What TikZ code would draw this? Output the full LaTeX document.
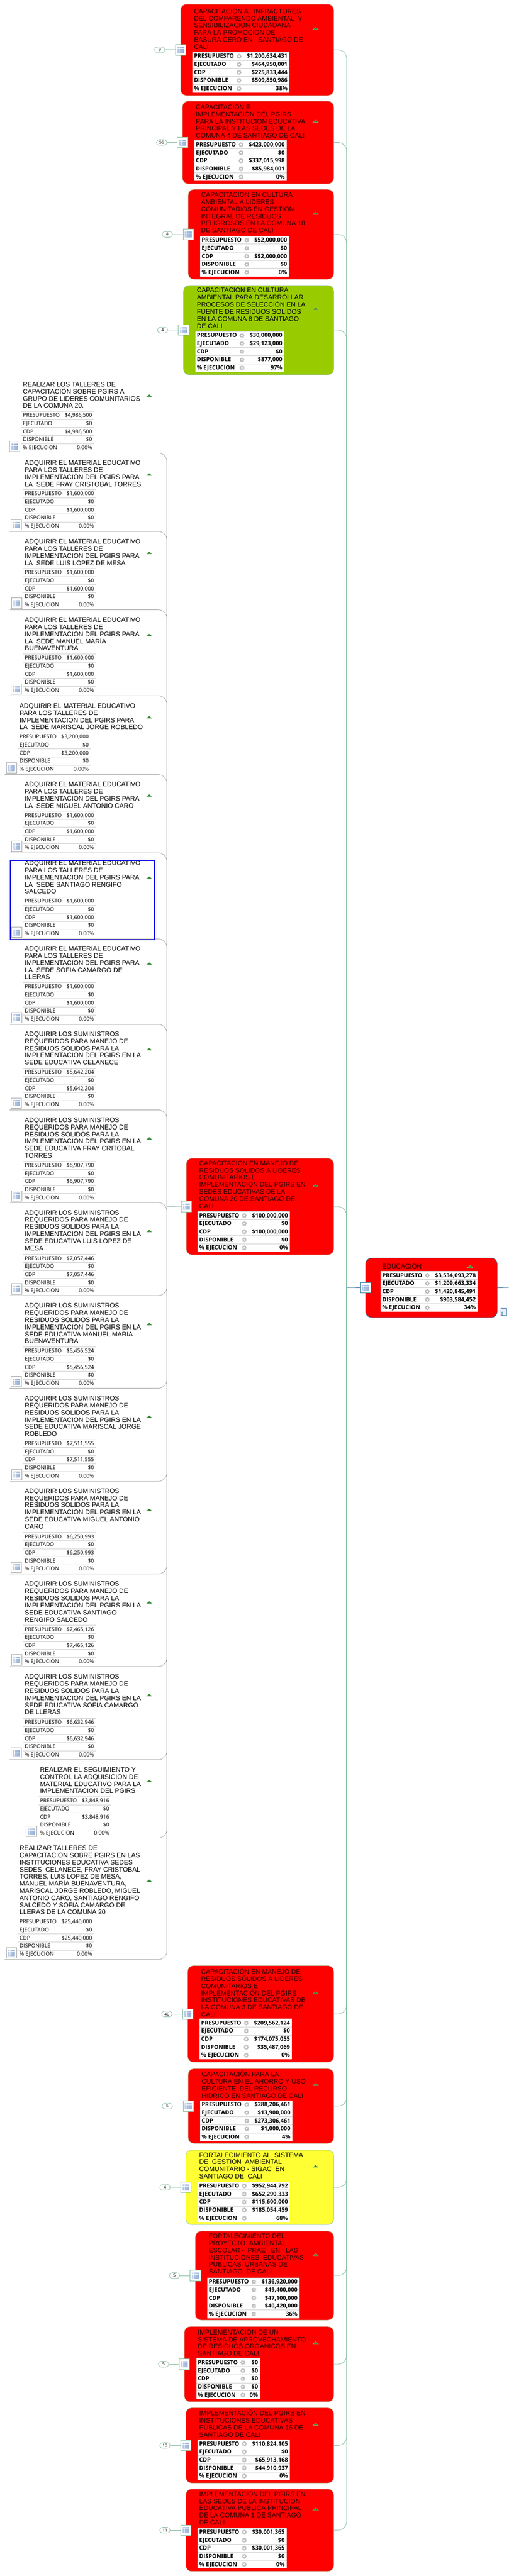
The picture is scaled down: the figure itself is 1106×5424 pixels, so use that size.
\documentclass[tikz,border=0pt]{standalone}
\usepackage{fontspec}
\setmainfont{Liberation Sans}
\newfontfamily\tablafont{Open Sans}
\usetikzlibrary{positioning,shapes.geometric}

\definecolor{verdelinea}{HTML}{86BD9F}
\definecolor{grislinea}{HTML}{A8A8A8}
\definecolor{azullinea}{HTML}{3B7A9E}
\definecolor{borderojo}{HTML}{C0A080}
\definecolor{textorojo}{HTML}{2A0000}
\definecolor{verdecaja}{HTML}{99CC00}
\definecolor{amarillocaja}{HTML}{FFFF33}
\definecolor{verdeflecha}{HTML}{2E8B2E}
\definecolor{iconoa}{HTML}{C8D8F0}
\definecolor{iconob}{HTML}{8EA8D0}

\tikzset{
    caja/.style={rounded corners=12pt,inner sep=0pt,outer sep=0pt,line width=0.8pt},
    rojo/.style={draw=borderojo,fill=red},
    verde/.style={draw=verdelinea,fill=verdecaja},
    amarillo/.style={draw=verdelinea,fill=amarillocaja},
    ramal/.style={draw=verdelinea,line width=0.9pt,rounded corners=18pt},
    gris/.style={draw=grislinea,line width=0.9pt,rounded corners=18pt},
    azul/.style={draw=azullinea,line width=0.9pt},
    icono/.style={draw=grislinea,fill=white,line width=0.8pt,minimum width=22pt,minimum height=22pt,
        inner sep=0pt,outer sep=0pt,
        path picture={\shade[left color=iconoa,right color=iconob]
            ([xshift=-7pt,yshift=-6pt]path picture bounding box.center) rectangle
            ([xshift=7pt,yshift=6pt]path picture bounding box.center);
            \draw[white,line width=0.5pt] ([xshift=-3.5pt,yshift=-6pt]path picture bounding box.center) -- ([xshift=-3.5pt,yshift=6pt]path picture bounding box.center);
            \draw[white,line width=0.5pt] ([xshift=-7pt,yshift=3pt]path picture bounding box.center) -- ([xshift=7pt,yshift=3pt]path picture bounding box.center);}},
    cuenta/.style={draw=verdelinea,fill=white,rounded corners=6pt,minimum width=22pt,minimum height=12pt,
        inner sep=0pt,outer sep=0pt,line width=0.8pt,font=\tablafont\fontsize{9}{10}\selectfont},
    titulo/.style={align=left,inner sep=0pt,font=\fontsize{13.8}{15}\selectfont},
    enrojo/.style={text=textorojo},
    tablita/.style={inner sep=0pt,outer sep=0pt,minimum height=85pt},
    tablablanca/.style={tablita,fill=white},
    fila/.style={inner sep=0pt,font=\tablafont\fontsize{11.4}{12}\selectfont},
    filab/.style={fila,font=\tablafont\bfseries\fontsize{12}{12}\selectfont},
    raya/.style={draw=black!18,line width=0.8pt},
    rueda/.style={star,star points=8,star point ratio=1.4,fill=gray!50,minimum size=11pt,inner sep=0pt},
    flechita/.style={fill=verdeflecha,draw=white!60!verdeflecha,line width=0.3pt},
    marco/.style={draw=blue!90!black,line width=2pt,inner sep=0pt,anchor=north west},
    archivo/.style={draw=azullinea,fill=blue!8,minimum width=12pt,minimum height=16pt,inner sep=0pt,
        path picture={\fill[azullinea!60] (path picture bounding box.west) rectangle (path picture bounding box.south);}}
}

% caja de color con su icono y el ramal al eje
\newcommand{\tema}[6][rojo]{
    \node[caja,#1,minimum width={#5-#3},minimum height={#6-#4},anchor=north west] (#2) at (#3,#4) {};
    \draw[ramal] (#2.east) -| (eje);
    \node[icono,draw=verdelinea] (#2i) at (#2.west) {};
}
\newcommand{\cifra}[2]{
    \node[cuenta,left=22pt of #1] (#1c) {#2};
    \draw[ramal] (#1c) -- (#1);
}
% hoja blanca: subrayado, icono y ramal gris
\newcommand{\hoja}[2]{
    \coordinate (#1) at (#2);
    \draw[gris] (#1) -| (ejeg);
    \node[icono,anchor=south west] (#1i) at ([xshift=3pt,yshift=3pt]#1) {};
}
\newcommand{\titulo}[4][]{
    \node[titulo,#1,anchor=north west] (#2) at ([yshift=5.65pt]#3) {\rule{0pt}{10.5pt}#4};
}
\newcommand{\flecha}[2]{
    \coordinate (#1) at (#2);
    \fill[flechita] (#1) ++(-6,2.5) -- ++(12,0) -- ++(-6,-5) -- cycle;
}
% tabla de cinco filas
\newcommand{\filas}[8][fila]{
    \node[tablita,#1,minimum width=#4pt,anchor=north west] (#2) at (#3) {};
    \foreach \et/\val [count=\i] in {PRESUPUESTO/{#5},EJECUTADO/{#6},CDP/{#7},DISPONIBLE/{#8},\%~EJECUCION/{\ejec}} {
        \pgfmathsetmacro\yy{12.5+17*(\i-1)}
        \pgfmathsetmacro\yr{17*(\i-1)}
        \draw[raya] ([yshift=-\yr pt]#2.north west) -- ([yshift=-\yr pt]#2.north east);
        \node[#1,anchor=base west] (#2a\i) at ([xshift=3pt,yshift=-\yy pt]#2.north west) {\et};
        \node[#1,anchor=base east] (#2b\i) at ([xshift=-4pt,yshift=-\yy pt]#2.north east) {\val};
    }
}
\newcommand{\ruedas}[1]{
    \foreach \i in {1,...,5} {
        \pgfmathsetmacro\yy{8.5+17*(\i-1)}
        \node[rueda] (#1r\i) at ([xshift=98pt,yshift=-\yy pt]#1.north west) {};
        \fill[white] (#1r\i) circle (2pt);
    }
}
% tabla de las cajas de color: fondo blanco, negrita y ruedas
\newcommand{\filasb}[7]{
    \node[tablablanca,minimum width=#3pt,anchor=north west] (#1f) at (#2) {};
    \filas[filab]{#1}{#2}{#3}{#4}{#5}{#6}{#7}
    \ruedas{#1}
}

\begin{document}
\begin{tikzpicture}[x=1pt,y=-1pt]
\useasboundingbox (0,0) rectangle (1106,5424);
\fill[white] (0,0) rectangle (1106,5424);

\coordinate (eje) at (729,2711);
\coordinate (ejeg) at (351,2540);

% arriba
\tema{b1}{380}{9}{702}{201}
\cifra{b1i}{9}
\titulo[enrojo]{b1t}{408,22}{CAPACITACIÓN A~~~INFRACTORES\\DEL COMPARENDO AMBIENTAL~~Y\\SENSIBILIZACION CIUDADANA\\PARA LA PROMOCION DE\\BASURA CERO EN~~~SANTIAGO DE\\CALI}
\flecha{b1f}{664,60}
\def\ejec{38\%}
\filasb{b1m}{405,110}{204}{\$1,200,634,431}{\$464,950,001}{\$225,833,444}{\$509,850,986}

\tema{b2}{384}{213}{702}{387}
\cifra{b2i}{56}
\titulo[enrojo]{b2t}{412,224}{CAPACITACIÓN E\\IMPLEMENTACIÓN DEL PGIRS\\PARA LA INSTITUCION EDUCATIVA\\PRINCIPAL Y LAS SEDES DE LA\\COMUNA 4 DE SANTIAGO DE CALI}
\flecha{b2f}{664,255}
\def\ejec{0\%}
\filasb{b2m}{409,296}{194}{\$423,000,000}{\$0}{\$337,015,998}{\$85,984,001}

\tema{b3}{396}{399}{702}{588}
\cifra{b3i}{4}
\titulo[enrojo]{b3t}{423,410}{CAPACITACION EN CULTURA\\AMBIENTAL A LIDERES\\COMUNITARIOS EN GESTION\\INTEGRAL DE RESIDUOS\\PELIGROSOS EN LA COMUNA 18\\DE SANTIAGO DE CALI}
\flecha{b3f}{664,449}
\def\ejec{0\%}
\filasb{b3m}{421,497}{187}{\$52,000,000}{\$0}{\$52,000,000}{\$0}

\tema[verde]{b4}{386}{601}{702}{789}
\cifra{b4i}{4}
\titulo{b4t}{414,611}{CAPACITACION EN CULTURA\\AMBIENTAL PARA DESARROLLAR\\PROCESOS DE SELECCIÓN EN LA\\FUENTE DE RESIDUOS SOLIDOS\\EN LA COMUNA 8 DE SANTIAGO\\DE CALI}
\flecha{b4f}{664,650}
\def\ejec{97\%}
\filasb{b4m}{411,698}{187}{\$30,000,000}{\$29,123,000}{\$0}{\$877,000}

% columna blanca
\def\ejec{0.00\%}
\hoja{n0}{17,954}
\titulo{n0t}{48,809}{REALIZAR LOS TALLERES DE\\CAPACITACIÓN SOBRE PGIRS A\\GRUPO DE LIDERES COMUNITARIOS\\DE LA COMUNA 20.}
\flecha{n0f}{314,833}
\filas{n0m}{45,866}{153}{\$4,986,500}{\$0}{\$4,986,500}{\$0}

\hoja{n1}{20,1119}
\titulo{n1t}{52,974}{ADQUIRIR EL MATERIAL EDUCATIVO\\PARA LOS TALLERES DE\\IMPLEMENTACION DEL PGIRS PARA\\LA~~SEDE FRAY CRISTOBAL TORRES}
\flecha{n1f}{314,999}
\filas{n1m}{49,1031}{153}{\$1,600,000}{\$0}{\$1,600,000}{\$0}

\hoja{n2}{21,1284}
\titulo{n2t}{52,1140}{ADQUIRIR EL MATERIAL EDUCATIVO\\PARA LOS TALLERES DE\\IMPLEMENTACION DEL PGIRS PARA\\LA~~SEDE LUIS LOPEZ DE MESA}
\flecha{n2f}{314,1164}
\filas{n2m}{49,1197}{153}{\$1,600,000}{\$0}{\$1,600,000}{\$0}

\hoja{n3}{20,1465}
\titulo{n3t}{52,1305}{ADQUIRIR EL MATERIAL EDUCATIVO\\PARA LOS TALLERES DE\\IMPLEMENTACION DEL PGIRS PARA\\LA~~SEDE MANUEL MARÍA\\BUENAVENTURA}
\flecha{n3f}{314,1337}
\filas{n3m}{49,1377}{153}{\$1,600,000}{\$0}{\$1,600,000}{\$0}

\hoja{n4}{10,1631}
\titulo{n4t}{41,1486}{ADQUIRIR EL MATERIAL EDUCATIVO\\PARA LOS TALLERES DE\\IMPLEMENTACION DEL PGIRS PARA\\LA~~SEDE MARISCAL JORGE ROBLEDO}
\flecha{n4f}{314,1510}
\filas{n4m}{38,1543}{153}{\$3,200,000}{\$0}{\$3,200,000}{\$0}

\hoja{n5}{21,1796}
\titulo{n5t}{52,1651}{ADQUIRIR EL MATERIAL EDUCATIVO\\PARA LOS TALLERES DE\\IMPLEMENTACION DEL PGIRS PARA\\LA~~SEDE MIGUEL ANTONIO CARO}
\flecha{n5f}{314,1675}
\filas{n5m}{49,1708}{153}{\$1,600,000}{\$0}{\$1,600,000}{\$0}

\hoja{n6}{21,1977}
\titulo{n6t}{52,1817}{ADQUIRIR EL MATERIAL EDUCATIVO\\PARA LOS TALLERES DE\\IMPLEMENTACION DEL PGIRS PARA\\LA~~SEDE SANTIAGO RENGIFO\\SALCEDO}
\flecha{n6f}{314,1848}
\filas{n6m}{49,1889}{153}{\$1,600,000}{\$0}{\$1,600,000}{\$0}
\node[marco,minimum width=303pt,minimum height=167pt] (sel) at (21,1811) {};

\hoja{n7}{21,2157}
\titulo{n7t}{52,1997}{ADQUIRIR EL MATERIAL EDUCATIVO\\PARA LOS TALLERES DE\\IMPLEMENTACION DEL PGIRS PARA\\LA~~SEDE SOFIA CAMARGO DE\\LLERAS}
\flecha{n7f}{314,2029}
\filas{n7m}{49,2069}{153}{\$1,600,000}{\$0}{\$1,600,000}{\$0}

\hoja{n8}{20,2337}
\titulo{n8t}{52,2177}{ADQUIRIR LOS SUMINISTROS\\REQUERIDOS PARA MANEJO DE\\RESIDUOS SOLIDOS PARA LA\\IMPLEMENTACION DEL PGIRS EN LA\\SEDE EDUCATIVA CELANECE}
\flecha{n8f}{314,2209}
\filas{n8m}{49,2249}{153}{\$5,642,204}{\$0}{\$5,642,204}{\$0}

\hoja{n9}{21,2532}
\titulo{n9t}{52,2358}{ADQUIRIR LOS SUMINISTROS\\REQUERIDOS PARA MANEJO DE\\RESIDUOS SOLIDOS PARA LA\\IMPLEMENTACION DEL PGIRS EN LA\\SEDE EDUCATIVA FRAY CRITOBAL\\TORRES}
\flecha{n9f}{314,2397}
\filas{n9m}{49,2445}{153}{\$6,907,790}{\$0}{\$6,907,790}{\$0}

\hoja{n10}{21,2728}
\titulo{n10t}{52,2553}{ADQUIRIR LOS SUMINISTROS\\REQUERIDOS PARA MANEJO DE\\RESIDUOS SOLIDOS PARA LA\\IMPLEMENTACION DEL PGIRS EN LA\\SEDE EDUCATIVA LUIS LOPEZ DE\\MESA}
\flecha{n10f}{314,2592}
\filas{n10m}{49,2641}{153}{\$7,057,446}{\$0}{\$7,057,446}{\$0}

\hoja{n11}{20,2923}
\titulo{n11t}{52,2749}{ADQUIRIR LOS SUMINISTROS\\REQUERIDOS PARA MANEJO DE\\RESIDUOS SOLIDOS PARA LA\\IMPLEMENTACION DEL PGIRS EN LA\\SEDE EDUCATIVA MANUEL MARIA\\BUENAVENTURA}
\flecha{n11f}{314,2788}
\filas{n11m}{49,2836}{153}{\$5,456,524}{\$0}{\$5,456,524}{\$0}

\hoja{n12}{21,3119}
\titulo{n12t}{52,2944}{ADQUIRIR LOS SUMINISTROS\\REQUERIDOS PARA MANEJO DE\\RESIDUOS SOLIDOS PARA LA\\IMPLEMENTACION DEL PGIRS EN LA\\SEDE EDUCATIVA MARISCAL JORGE\\ROBLEDO}
\flecha{n12f}{314,2983}
\filas{n12m}{49,3031}{153}{\$7,511,555}{\$0}{\$7,511,555}{\$0}

\hoja{n13}{20,3314}
\titulo{n13t}{52,3139}{ADQUIRIR LOS SUMINISTROS\\REQUERIDOS PARA MANEJO DE\\RESIDUOS SOLIDOS PARA LA\\IMPLEMENTACION DEL PGIRS EN LA\\SEDE EDUCATIVA MIGUEL ANTONIO\\CARO}
\flecha{n13f}{314,3179}
\filas{n13m}{49,3227}{153}{\$6,250,993}{\$0}{\$6,250,993}{\$0}

\hoja{n14}{21,3509}
\titulo{n14t}{52,3335}{ADQUIRIR LOS SUMINISTROS\\REQUERIDOS PARA MANEJO DE\\RESIDUOS SOLIDOS PARA LA\\IMPLEMENTACION DEL PGIRS EN LA\\SEDE EDUCATIVA SANTIAGO\\RENGIFO SALCEDO}
\flecha{n14f}{314,3374}
\filas{n14m}{49,3422}{153}{\$7,465,126}{\$0}{\$7,465,126}{\$0}

\hoja{n15}{20,3705}
\titulo{n15t}{52,3530}{ADQUIRIR LOS SUMINISTROS\\REQUERIDOS PARA MANEJO DE\\RESIDUOS SOLIDOS PARA LA\\IMPLEMENTACION DEL PGIRS EN LA\\SEDE EDUCATIVA SOFIA CAMARGO\\DE LLERAS}
\flecha{n15f}{314,3569}
\filas{n15m}{49,3618}{153}{\$6,632,946}{\$0}{\$6,632,946}{\$0}

\hoja{n16}{52,3870}
\titulo{n16t}{84,3726}{REALIZAR EL SEGUIMIENTO Y\\CONTROL LA ADQUISICION DE\\MATERIAL EDUCATIVO PARA LA\\IMPLEMENTACION DEL PGIRS}
\flecha{n16f}{314,3750}
\filas{n16m}{81,3783}{153}{\$3,848,916}{\$0}{\$3,848,916}{\$0}

\hoja{n17}{10,4126}
\titulo{n17t}{41,3891}{REALIZAR TALLERES DE\\CAPACITACIÓN SOBRE PGIRS EN LAS\\INSTITUCIONES EDUCATIVA SEDES\\SEDES~~CELANECE, FRAY CRISTOBAL\\TORRES, LUIS LOPEZ DE MESA,\\MANUEL MARÍA BUENAVENTURA,\\MARISCAL JORGE ROBLEDO, MIGUEL\\ANTONIO CARO, SANTIAGO RENGIFO\\SALCEDO Y SOFIA CAMARGO DE\\LLERAS DE LA COMUNA 20}
\flecha{n17f}{314,3960}
\filas{n17m}{38,4038}{160}{\$25,440,000}{\$0}{\$25,440,000}{\$0}

% centro
\tema{b20}{392}{2439}{702}{2642}
\draw[ramal] (ejeg) -- (b20i);
\titulo[enrojo]{b20t}{419,2449}{CAPACITACION EN MANEJO DE\\RESIDUOS SOLIDOS A LIDERES\\COMUNITARIOS E\\IMPLEMENTACION DEL PGIRS EN\\SEDES EDUCATIVAS DE LA\\COMUNA 20 DE SANTIAGO DE\\CALI}
\flecha{b20f}{664,2496}
\def\ejec{0\%}
\filasb{b20m}{416,2551}{194}{\$100,000,000}{\$0}{\$100,000,000}{\$0}

\node[caja,rojo,draw=azullinea,minimum width=277pt,minimum height=125pt,anchor=north west] (edu) at (769,2649) {};
\node[icono,draw=azullinea] (edui) at (edu.west) {};
\coordinate (salida) at (1070,2711);
\draw[azul] (eje) -- (edui);
\draw[azul] (edu.east) -- (salida);
\titulo[enrojo]{edut}{804,2666}{EDUCACION}
\flecha{eduf}{989,2667}
\def\ejec{34\%}
\filasb{edum}{801,2677}{204}{\$3,534,093,278}{\$1,209,663,334}{\$1,420,845,491}{\$903,584,452}
\node[archivo] (doc) at (1059,2762) {};

% abajo
\tema{b5}{395}{4139}{702}{4342}
\cifra{b5i}{40}
\titulo[enrojo]{b5t}{423,4150}{CAPACITACIÓN EN MANEJO DE\\RESIDUOS SÓLIDOS A LIDERES\\COMUNITARIOS E\\IMPLEMENTACIÓN DEL PGIRS\\INSTITUCIONES EDUCATIVAS DE\\LA COMUNA 3 DE SANTIAGO DE\\CALI}
\flecha{b5f}{664,4196}
\def\ejec{0\%}
\filasb{b5m}{420,4251}{194}{\$209,562,124}{\$0}{\$174,075,055}{\$35,487,069}

\tema{b6}{396}{4356}{702}{4513}
\cifra{b6i}{5}
\titulo[enrojo]{b6t}{424,4366}{CAPACITACIÓN PARA LA\\CULTURA EN EL AHORRO Y USO\\EFICIENTE~~DEL RECURSO\\HIDRICO EN SANTIAGO DE CALI}
\flecha{b6f}{664,4389}
\def\ejec{4\%}
\filasb{b6m}{421,4423}{194}{\$288,206,461}{\$13,900,000}{\$273,306,461}{\$1,000,000}

\tema[amarillo]{b7}{391}{4527}{702}{4684}
\cifra{b7i}{4}
\titulo{b7t}{419,4537}{FORTALECIMIENTO AL~~SISTEMA\\DE~~GESTION~~AMBIENTAL\\COMUNITARIO - SIGAC~~EN\\SANTIAGO DE~~CALI}
\flecha{b7f}{664,4561}
\def\ejec{68\%}
\filasb{b7m}{416,4594}{194}{\$952,944,792}{\$652,290,333}{\$115,600,000}{\$185,054,459}

\tema{b8}{411}{4698}{702}{4885}
\cifra{b8i}{5}
\titulo[enrojo]{b8t}{439,4708}{FORTALECIMIENTO DEL\\PROYECTO~~AMBIENTAL\\ESCOLAR -~~PRAE~~~EN~~~LAS\\INSTITUCIONES~~EDUCATIVAS\\PUBLICAS~~URBANAS DE\\SANTIAGO~~DE CALI}
\flecha{b8f}{664,4747}
\def\ejec{36\%}
\filasb{b8m}{436,4796}{194}{\$136,920,000}{\$49,400,000}{\$47,100,000}{\$40,420,000}

\tema{b9}{388}{4899}{702}{5057}
\cifra{b9i}{5}
\titulo[enrojo]{b9t}{416,4909}{IMPLEMENTACIÓN DE UN\\SISTEMA DE APROVECHAMIENTO\\DE RESIDUOS ORGANICOS EN\\SANTIAGO DE CALI}
\flecha{b9f}{664,4933}
\def\ejec{0\%}
\filasb{b9m}{413,4966}{134}{\$0}{\$0}{\$0}{\$0}

\tema{b10}{391}{5070}{702}{5228}
\cifra{b10i}{10}
\titulo[enrojo]{b10t}{419,5080}{IMPLEMENTACIÓN DEL PGIRS EN\\INSTITUCIONES EDUCATIVAS\\PÚBLICAS DE LA COMUNA 16 DE\\SANTIAGO DE CALI}
\flecha{b10f}{664,5104}
\def\ejec{0\%}
\filasb{b10m}{416,5137}{194}{\$110,824,105}{\$0}{\$65,913,168}{\$44,910,937}

\tema{b11}{391}{5241}{702}{5414}
\cifra{b11i}{11}
\titulo[enrojo]{b11t}{419,5251}{IMPLEMENTACION DEL PGIRS EN\\LAS SEDES DE LA INSTITUCION\\EDUCATIVA PUBLICA PRINCIPAL\\DE LA COMUNA 1 DE SANTIAGO\\DE CALI}
\flecha{b11f}{664,5283}
\def\ejec{0\%}
\filasb{b11m}{416,5323}{187}{\$30,001,365}{\$0}{\$30,001,365}{\$0}

\end{tikzpicture}
\end{document}
